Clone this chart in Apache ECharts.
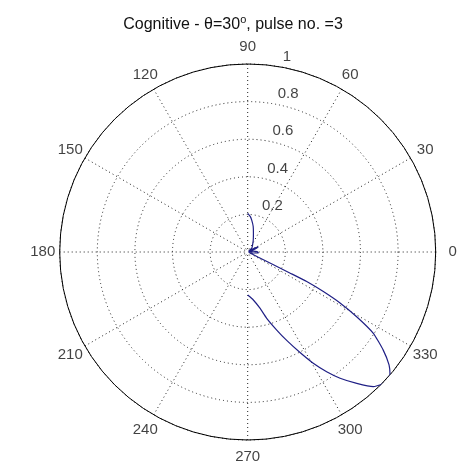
<!DOCTYPE html>
<html>
<head>
<meta charset="utf-8">
<script src="https://cdn.jsdelivr.net/npm/echarts@6/dist/echarts.min.js"></script>
<style>
  html, body { margin: 0; padding: 0; background: #fff; }
  #chart { width: 466px; height: 469px; }
</style>
</head>
<body>
<div id="chart"></div>
<script>
  // pattern angle in degrees (sweep 90 -> -90)
  const patternAngle = [90, 86, 83, 78, 73, 65, 55, 43, 36, 30, 26, 22, 15, 8, 2, -5, -10, -14, -20, -24, -26, -26.3, -26.45, -26.6, -27.6, -28.9, -30.7, -32.9, -35.9, -38.6, -40.8, -42.8, -44.8, -47, -50.3, -53.8, -56.6, -59.5, -62.5, -66.2, -69.6, -74, -77.7, -83.3, -90];
  // normalised gain for each angle
  const patternGain = [0.206, 0.19, 0.172, 0.14, 0.104, 0.07, 0.045, 0.03, 0.005, 0.045, 0.063, 0.045, 0.005, 0.03, 0.05, 0.058, 0.03, 0.005, 0.01, 0.02, 0.06, 0.15, 0.25, 0.351, 0.454, 0.561, 0.674, 0.796, 0.89, 0.962, 1.0, 1.005, 1.0, 0.979, 0.908, 0.832, 0.763, 0.687, 0.603, 0.514, 0.443, 0.367, 0.306, 0.257, 0.229];
  const ringTicks = [0.2, 0.4, 0.6, 0.8, 1];
  const ringLabelAngle = 82;
  const angleTicks = [0, 30, 60, 90, 120, 150, 180, 210, 240, 270, 300, 330];
  const angleLabelRadius = 1.09;

  const curve = patternAngle.map((a, i) => [patternGain[i], a < 0 ? a + 360 : a]);
  const ringLabels = ringTicks.map(r => [r, ringLabelAngle]);
  const angleLabels = angleTicks.map(a => [angleLabelRadius, a]);

  const chart = echarts.init(document.getElementById('chart'));
  const font = 'Liberation Sans, Arial, sans-serif';

  chart.setOption({
    backgroundColor: '#fff',
    animation: false,
    title: {
      text: '{a|Cognitive - \u03b8=30}{s|o}{a|, pulse no. =3}',
      left: 'center',
      top: 9,
      textStyle: {
        fontWeight: 'normal',
        rich: {
          a: { fontSize: 16, color: '#111', fontFamily: font, fontWeight: 'normal' },
          s: { fontSize: 11, color: '#111', fontFamily: font, fontWeight: 'normal', padding: [0, 0, 11, 0] }
        }
      }
    },
    polar: {
      center: [247.7, 252],
      radius: 188
    },
    angleAxis: {
      type: 'value',
      min: 0,
      max: 360,
      interval: 30,
      startAngle: 0,
      clockwise: false,
      axisLine: { show: true, lineStyle: { color: '#000', width: 1 } },
      axisTick: { show: false },
      axisLabel: { show: false },
      splitLine: { show: true, lineStyle: { color: '#222', width: 1, type: [1, 3] } }
    },
    radiusAxis: {
      min: 0,
      max: 1,
      interval: 0.2,
      axisLine: { show: false },
      axisTick: { show: false },
      axisLabel: { show: false },
      splitLine: { show: true, lineStyle: { color: '#222', width: 1, type: [1, 3] } }
    },
    series: [
      {
        type: 'line',
        coordinateSystem: 'polar',
        data: curve,
        showSymbol: false,
        smooth: 0.15,
        lineStyle: { color: '#1f1f85', width: 1.2 },
        z: 5
      },
      {
        type: 'scatter',
        coordinateSystem: 'polar',
        data: ringLabels,
        symbolSize: 0,
        silent: true,
        label: {
          show: true,
          position: 'right',
          offset: [4, -9],
          fontSize: 15,
          color: '#111',
          fontFamily: font,
          formatter: p => String(p.value[0])
        }
      },
      {
        type: 'scatter',
        coordinateSystem: 'polar',
        data: angleLabels,
        symbolSize: 0,
        silent: true,
        clip: false,
        label: {
          show: true,
          position: 'inside',
          fontSize: 15,
          color: '#111',
          fontFamily: font,
          formatter: p => String(p.value[1])
        }
      }
    ]
  });
</script>
</body>
</html>
